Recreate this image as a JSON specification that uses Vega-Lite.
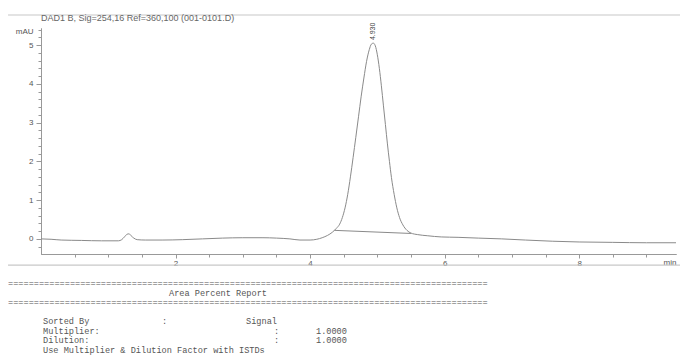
{
  "$schema": "https://vega.github.io/schema/vega-lite/v6.json",
  "background": "white",
  "padding": {"left": 7, "top": 13, "right": 0, "bottom": 0},
  "autosize": {"type": "pad"},
  "spacing": 12,
  "config": {"view": {"stroke": null}, "font": "Liberation Sans"},
  "datasets": {
    "signal": [
      {"t": 0.00, "mAU": 0.00}, {"t": 0.15, "mAU": -0.01}, {"t": 0.30, "mAU": -0.03}, {"t": 0.60, "mAU": -0.04},
      {"t": 0.90, "mAU": -0.05}, {"t": 1.15, "mAU": -0.05}, {"t": 1.20, "mAU": -0.02}, {"t": 1.24, "mAU": 0.05},
      {"t": 1.28, "mAU": 0.12}, {"t": 1.31, "mAU": 0.13}, {"t": 1.34, "mAU": 0.08}, {"t": 1.38, "mAU": 0.02},
      {"t": 1.43, "mAU": -0.02}, {"t": 1.55, "mAU": -0.03}, {"t": 1.80, "mAU": -0.03}, {"t": 2.10, "mAU": -0.02},
      {"t": 2.40, "mAU": 0.00}, {"t": 2.70, "mAU": 0.02}, {"t": 3.00, "mAU": 0.03}, {"t": 3.30, "mAU": 0.03},
      {"t": 3.50, "mAU": 0.02}, {"t": 3.70, "mAU": 0.00}, {"t": 3.85, "mAU": -0.03}, {"t": 4.00, "mAU": -0.03},
      {"t": 4.10, "mAU": -0.01}, {"t": 4.18, "mAU": 0.03}, {"t": 4.26, "mAU": 0.09}, {"t": 4.33, "mAU": 0.17},
      {"t": 4.39, "mAU": 0.27}, {"t": 4.44, "mAU": 0.38}, {"t": 4.48, "mAU": 0.55}, {"t": 4.52, "mAU": 0.80},
      {"t": 4.56, "mAU": 1.15}, {"t": 4.60, "mAU": 1.60}, {"t": 4.64, "mAU": 2.10}, {"t": 4.68, "mAU": 2.62},
      {"t": 4.72, "mAU": 3.15}, {"t": 4.76, "mAU": 3.68}, {"t": 4.80, "mAU": 4.15}, {"t": 4.84, "mAU": 4.58},
      {"t": 4.88, "mAU": 4.88}, {"t": 4.91, "mAU": 5.02}, {"t": 4.94, "mAU": 5.05}, {"t": 4.97, "mAU": 4.98},
      {"t": 5.00, "mAU": 4.75}, {"t": 5.03, "mAU": 4.40}, {"t": 5.06, "mAU": 3.95}, {"t": 5.09, "mAU": 3.45},
      {"t": 5.12, "mAU": 2.95}, {"t": 5.15, "mAU": 2.45}, {"t": 5.18, "mAU": 2.00}, {"t": 5.21, "mAU": 1.58},
      {"t": 5.25, "mAU": 1.15}, {"t": 5.29, "mAU": 0.80}, {"t": 5.33, "mAU": 0.55}, {"t": 5.38, "mAU": 0.36},
      {"t": 5.44, "mAU": 0.22}, {"t": 5.50, "mAU": 0.15}, {"t": 5.60, "mAU": 0.11}, {"t": 5.75, "mAU": 0.08},
      {"t": 5.95, "mAU": 0.05}, {"t": 6.20, "mAU": 0.04}, {"t": 6.50, "mAU": 0.02}, {"t": 6.85, "mAU": 0.00},
      {"t": 7.20, "mAU": -0.03}, {"t": 7.60, "mAU": -0.06}, {"t": 8.00, "mAU": -0.08}, {"t": 8.50, "mAU": -0.09},
      {"t": 9.00, "mAU": -0.10}, {"t": 9.44, "mAU": -0.10}
    ],
    "integration": [
      {"t": 4.36, "mAU": 0.22}, {"t": 5.50, "mAU": 0.14}
    ],
    "peaks": [
      {"t": 4.94, "mAU": 5.05, "label": "4.930"}
    ],
    "report": [
      {"line": 0, "col": 0, "text": "============================================================================================="},
      {"line": 1, "col": 23, "text": "Area Percent Report"},
      {"line": 2, "col": 0, "text": "============================================================================================="},
      {"line": 4, "col": 5, "text": "Sorted By"},
      {"line": 4, "col": 22, "text": ":"},
      {"line": 4, "col": 34, "text": "Signal"},
      {"line": 5, "col": 5, "text": "Multiplier:"},
      {"line": 5, "col": 38, "text": ":"},
      {"line": 5, "col": 44, "text": "1.0000"},
      {"line": 6, "col": 5, "text": "Dilution:"},
      {"line": 6, "col": 38, "text": ":"},
      {"line": 6, "col": 44, "text": "1.0000"},
      {"line": 7, "col": 5, "text": "Use Multiplier & Dilution Factor with ISTDs"}
    ]
  },
  "vconcat": [
    {
      "width": 635,
      "height": 226,
      "title": {"text": "DAD1 B, Sig=254,16 Ref=360,100 (001-0101.D)", "anchor": "start", "frame": "group", "fontSize": 9, "fontWeight": "normal", "color": "#666", "offset": -8.5, "font": "Liberation Sans"},
      "layer": [
        {
          "data": {"name": "signal"},
          "mark": {"type": "line", "color": "#8a8a8a", "strokeWidth": 1, "interpolate": "monotone"},
          "encoding": {
            "x": {
              "field": "t", "type": "quantitative",
              "scale": {"domain": [0, 9.44], "nice": false, "zero": false},
              "axis": {
                "orient": "bottom",
                "values": [2, 4, 6, 8],
                "format": "d",
                "tickSize": 4,
                "title": "min", "titleX": 622, "titleY": 4, "titleAlign": "left", "titleBaseline": "top",
                "titleFontSize": 8, "titleFontWeight": "normal", "titleColor": "#555",
                "labelFontSize": 8, "labelColor": "#555", "labelPadding": 1,
                "labelOverlap": false, "labelFlush": false,
                "domainColor": "#999", "tickColor": "#999", "grid": false
              }
            },
            "y": {
              "field": "mAU", "type": "quantitative",
              "scale": {"domain": [-0.39, 5.44], "nice": false, "zero": false},
              "axis": {
                "orient": "left",
                "values": [0, 1, 2, 3, 4, 5],
                "format": "d",
                "tickSize": 5,
                "title": "mAU", "titleAngle": 0, "titleAlign": "right", "titleBaseline": "middle",
                "titleX": -8, "titleY": 3, "titleFontSize": 8, "titleFontWeight": "normal", "titleColor": "#555",
                "labelFontSize": 8, "labelColor": "#555", "labelPadding": 3, "labelOverlap": false,
                "domainColor": "#999", "tickColor": "#999", "grid": false
              }
            }
          }
        },
        {
          "data": {"name": "integration"},
          "mark": {"type": "line", "color": "#8a8a8a", "strokeWidth": 1},
          "encoding": {
            "x": {
              "field": "t", "type": "quantitative",
              "axis": {
                "orient": "bottom",
                "values": [0.5, 1, 1.5, 2, 2.5, 3, 3.5, 4, 4.5, 5, 5.5, 6, 6.5, 7, 7.5, 8, 8.5, 9],
                "labels": false, "tickSize": 3, "title": null,
                "domainColor": "#999", "tickColor": "#999", "grid": false
              }
            },
            "y": {
              "field": "mAU", "type": "quantitative",
              "axis": {
                "orient": "left",
                "values": [-0.2, 0, 0.2, 0.4, 0.6, 0.8, 1, 1.2, 1.4, 1.6, 1.8, 2, 2.2, 2.4, 2.6, 2.8, 3, 3.2, 3.4, 3.6, 3.8, 4, 4.2, 4.4, 4.6, 4.8, 5, 5.2, 5.4],
                "labels": false, "tickSize": 3, "title": null,
                "domainColor": "#999", "tickColor": "#999", "grid": false
              }
            }
          }
        },
        {
          "data": {"name": "peaks"},
          "mark": {"type": "text", "angle": 270, "align": "left", "baseline": "middle", "dx": 3, "fontSize": 7, "color": "#444"},
          "encoding": {
            "x": {"field": "t", "type": "quantitative", "axis": null},
            "y": {"field": "mAU", "type": "quantitative", "axis": null},
            "text": {"field": "label"}
          }
        },
        {
          "data": {"values": [{}]},
          "mark": {"type": "rule", "color": "#c8c8c8", "strokeWidth": 1.2},
          "encoding": {
            "x": {"datum": -0.49, "type": "quantitative", "axis": null},
            "x2": {"datum": 9.6},
            "y": {"datum": 5.775, "type": "quantitative", "axis": null}
          }
        },
        {
          "data": {"values": [{}]},
          "mark": {"type": "rule", "color": "#c8c8c8", "strokeWidth": 1.2},
          "encoding": {
            "x": {"datum": -0.49, "type": "quantitative", "axis": null},
            "x2": {"datum": 9.6},
            "y": {"datum": -0.675, "type": "quantitative", "axis": null}
          }
        }
      ],
      "resolve": {"axis": {"x": "independent", "y": "independent"}}
    },
    {
      "width": 600,
      "height": 67,
      "data": {"name": "report"},
      "mark": {"type": "text", "align": "left", "baseline": "middle", "font": "Liberation Mono", "fontSize": 8.6, "color": "#555"},
      "encoding": {
        "x": {"field": "col", "type": "quantitative", "scale": {"domain": [4.714, 90.43], "nice": false, "zero": false}, "axis": null},
        "y": {"field": "line", "type": "quantitative", "scale": {"domain": [0, 7], "reverse": true, "nice": false, "zero": false}, "axis": null},
        "text": {"field": "text"}
      }
    }
  ]
}
